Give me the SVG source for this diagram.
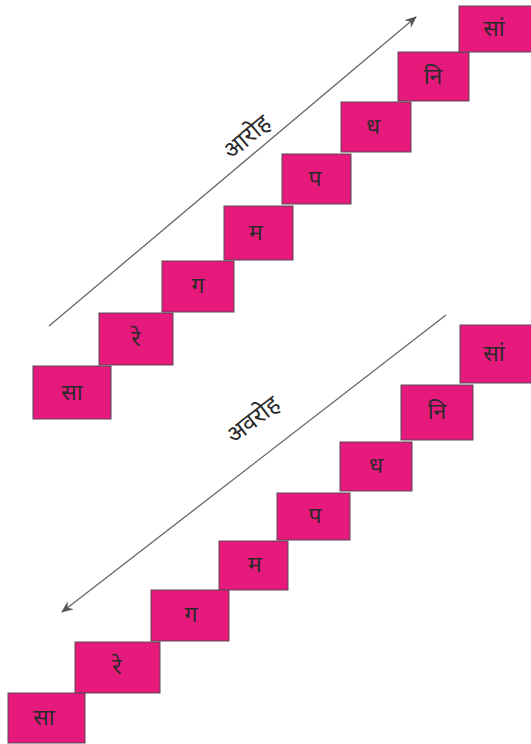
<svg xmlns="http://www.w3.org/2000/svg" width="531" height="744" viewBox="0 0 531 744">
<style>
.box{fill:#E6197D;stroke:#5a4a55;stroke-width:1}
.lbl{font-family:"Noto Sans Devanagari","Noto Sans","DejaVu Sans",sans-serif;font-size:23px;fill:#2a2a2a;text-anchor:middle}
.cap{font-family:"Noto Sans Devanagari","Noto Sans","DejaVu Sans",sans-serif;font-size:24px;fill:#2a2a2a;text-anchor:middle}
.conn{stroke:#666;stroke-width:1.3;fill:none}
</style>
<defs>
<marker id="ah" viewBox="0 0 12 10" refX="11" refY="5" markerWidth="12" markerHeight="10" markerUnits="userSpaceOnUse" orient="auto">
<path d="M0,0 L12,5 L0,10 L4,5 Z" fill="#555"/>
</marker>
</defs>
<rect width="531" height="744" fill="#fff"/>
<g id="connectors">
<line class="conn" x1="49" y1="326" x2="416" y2="17" marker-end="url(#ah)"/>
<line class="conn" x1="446" y1="315" x2="62" y2="612" marker-end="url(#ah)"/>
</g>
<g id="label-aaroh"><text class="cap" transform="translate(252,143) rotate(-40)">आरोह</text></g>
<g id="label-avaroh"><text class="cap" transform="translate(258,426) rotate(-38)">अवरोह</text></g>
<g id="up-sa"><rect class="box" x="33" y="366" width="78" height="53"/><text class="lbl" x="72" y="400">सा</text></g>
<g id="up-re"><rect class="box" x="99" y="313" width="74" height="52"/><text class="lbl" x="136" y="346">रे</text></g>
<g id="up-ga"><rect class="box" x="162" y="261" width="72" height="51"/><text class="lbl" x="198" y="293">ग</text></g>
<g id="up-ma"><rect class="box" x="224" y="206" width="69" height="54"/><text class="lbl" x="256" y="240">म</text></g>
<g id="up-pa"><rect class="box" x="282" y="154" width="69" height="50"/><text class="lbl" x="315" y="186">प</text></g>
<g id="up-dha"><rect class="box" x="341" y="102" width="70" height="50"/><text class="lbl" x="373" y="134">ध</text></g>
<g id="up-ni"><rect class="box" x="398" y="52" width="71" height="49"/><text class="lbl" x="433" y="84">नि</text></g>
<g id="up-saa"><rect class="box" x="459" y="6" width="76" height="46"/><text class="lbl" x="494" y="36">सां</text></g>
<g id="dn-saa"><rect class="box" x="460" y="325" width="75" height="58"/><text class="lbl" x="494" y="361">सां</text></g>
<g id="dn-ni"><rect class="box" x="401" y="385" width="72" height="55"/><text class="lbl" x="437" y="419">नि</text></g>
<g id="dn-dha"><rect class="box" x="340" y="442" width="72" height="49"/><text class="lbl" x="376" y="473">ध</text></g>
<g id="dn-pa"><rect class="box" x="277" y="493" width="73" height="47"/><text class="lbl" x="315" y="523">प</text></g>
<g id="dn-ma"><rect class="box" x="219" y="541" width="69" height="49"/><text class="lbl" x="255" y="572">म</text></g>
<g id="dn-ga"><rect class="box" x="151" y="590" width="78" height="51"/><text class="lbl" x="191" y="622">ग</text></g>
<g id="dn-re"><rect class="box" x="75" y="642" width="85" height="51"/><text class="lbl" x="117" y="674">रे</text></g>
<g id="dn-sa"><rect class="box" x="8" y="693" width="77" height="50"/><text class="lbl" x="44" y="725">सा</text></g>
</svg>
